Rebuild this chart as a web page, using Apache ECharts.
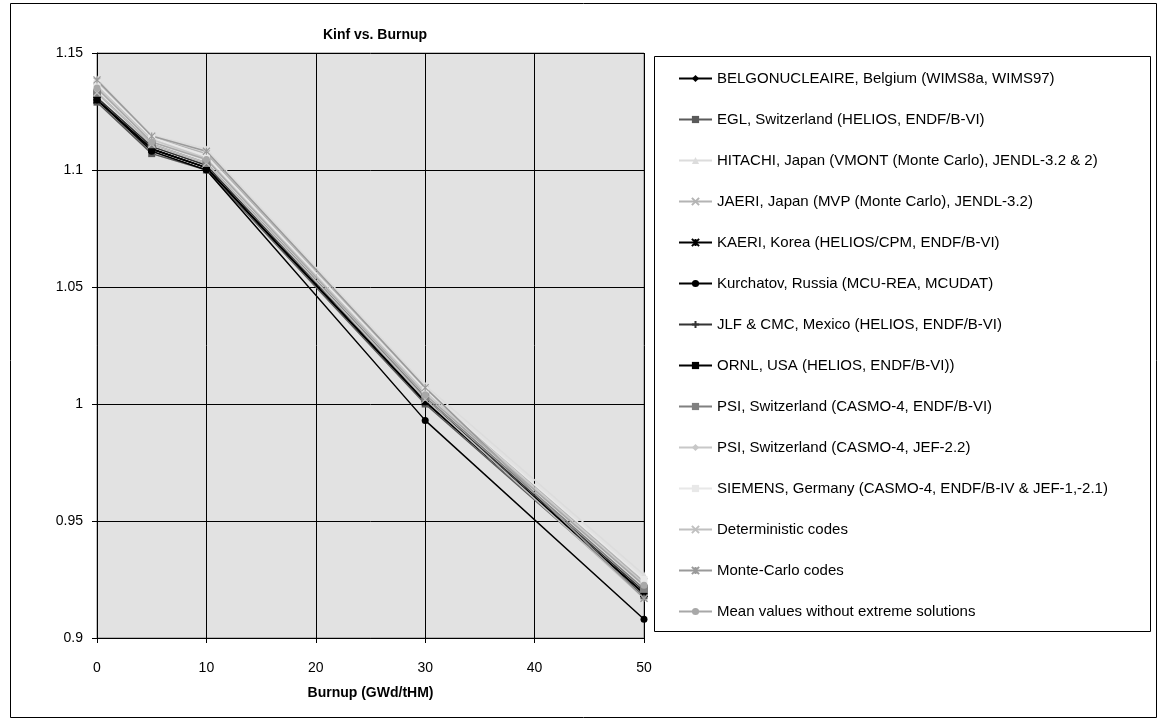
<!DOCTYPE html>
<html><head><meta charset="utf-8">
<script src="https://cdn.jsdelivr.net/npm/echarts@6/dist/echarts.min.js"></script>
<style>html,body{margin:0;padding:0;background:#fff}#c{width:1160px;height:720px}</style>
</head><body><div id="c"></div>
<script>
const burnup = [0, 5, 10, 30, 50];
const names = [
  'BELGONUCLEAIRE, Belgium (WIMS8a, WIMS97)',
  'EGL, Switzerland (HELIOS, ENDF/B-VI)',
  'HITACHI, Japan (VMONT (Monte Carlo), JENDL-3.2 & 2)',
  'JAERI, Japan (MVP (Monte Carlo), JENDL-3.2)',
  'KAERI, Korea (HELIOS/CPM, ENDF/B-VI)',
  'Kurchatov, Russia (MCU-REA, MCUDAT)',
  'JLF & CMC, Mexico (HELIOS, ENDF/B-VI)',
  'ORNL, USA (HELIOS, ENDF/B-VI))',
  'PSI, Switzerland (CASMO-4, ENDF/B-VI)',
  'PSI, Switzerland (CASMO-4, JEF-2.2)',
  'SIEMENS, Germany (CASMO-4, ENDF/B-IV & JEF-1,-2.1)',
  'Deterministic codes',
  'Monte-Carlo codes',
  'Mean values without extreme solutions'
];
const belgonucleaire = [1.130, 1.109, 1.101, 1.001, 0.919];
const egl            = [1.129, 1.107, 1.100, 1.000, 0.918];
const hitachi        = [1.139, 1.115, 1.109, 1.008, 0.927];
const jaeri          = [1.138, 1.114, 1.107, 1.006, 0.924];
const kaeri          = [1.130, 1.109, 1.101, 1.001, 0.919];
const kurchatov      = [1.130, 1.108, 1.100, 0.993, 0.908];
const jlfCmc         = [1.131, 1.110, 1.102, 1.002, 0.920];
const ornl           = [1.130, 1.109, 1.101, 1.001, 0.919];
const psiEndf        = [1.133, 1.111, 1.103, 1.003, 0.921];
const psiJef         = [1.136, 1.113, 1.105, 1.005, 0.923];
const siemens        = [1.137, 1.114, 1.106, 1.006, 0.925];
const deterministic  = [1.133, 1.111, 1.103, 1.002, 0.917];
const monteCarlo     = [1.1385, 1.1145, 1.108, 1.007, 0.917];
const meanValues     = [1.135, 1.112, 1.1045, 1.004, 0.9225];
const allValues = [belgonucleaire, egl, hitachi, jaeri, kaeri, kurchatov, jlfCmc, ornl, psiEndf, psiJef, siemens, deterministic, monteCarlo, meanValues];

const X = 'path://M0,0L10,10M10,0L0,10';
const STAR = 'path://M0,0L10,10M10,0L0,10M5,0L5,10';
const PLUS = 'path://M5,0L5,10M0,5L10,5';
const DASH = 'path://M0,4L10,4L10,6.5L0,6.5Z';
const styles = [
  {c:'#000000', s:'diamond', z:7},
  {c:'#5a5a5a', s:'rect', z:7},
  {c:'#dcdcdc', s:'triangle', z:7},
  {c:'#b4b4b4', s:X, z:7, stroke:true},
  {c:'#000000', s:STAR, z:7, stroke:true},
  {c:'#000000', s:'circle', z:7},
  {c:'#333333', s:PLUS, z:8, stroke:true},
  {c:'#000000', s:DASH, z:7},
  {c:'#808080', s:DASH, z:8},
  {c:'#c8c8c8', s:'diamond', z:7},
  {c:'#e8e8e8', s:'rect', z:7},
  {c:'#c0c0c0', s:X, z:7, stroke:true},
  {c:'#9a9a9a', s:STAR, z:7, stroke:true},
  {c:'#a8a8a8', s:'circle', z:7}
];

const series = names.map((n, i) => {
  const st = styles[i];
  return {
    name: n, type: 'line', data: burnup.map((b, j) => [b, allValues[i][j]]),
    symbol: st.s, symbolSize: st.z, showAllSymbol: true,
    lineStyle: {color: st.c, width: 1.5},
    itemStyle: {color: st.c, borderColor: st.c, borderWidth: st.stroke ? 1.2 : 0},
    emphasis: {disabled: true}, animation: false
  };
});

const chart = echarts.init(document.getElementById('c'), null, {renderer: 'canvas'});
const FONT = 'Liberation Sans, Arial, sans-serif';
chart.setOption({
  animation: false,
  backgroundColor: '#ffffff',
  textStyle: {fontFamily: FONT},
  title: {text: 'Kinf vs. Burnup', left: 370, top: 23, textAlign: 'center',
    textStyle: {fontFamily: FONT, fontSize: 14, fontWeight: 'bold', color: '#000'}},
  graphic: [
    {type: 'rect', shape: {x: 10.5, y: 3.5, width: 1146, height: 714}, style: {fill: 'none', stroke: '#000', lineWidth: 1}, silent: true},
    {type: 'rect', shape: {x: 654.5, y: 56.5, width: 496, height: 575}, style: {fill: '#fff', stroke: '#000', lineWidth: 1}, silent: true, z: -1}
  ],
  legend: {
    orient: 'vertical', left: 673, top: 66,
    itemWidth: 33, itemHeight: 9, itemGap: 26,
    textStyle: {fontFamily: FONT, fontSize: 15, lineHeight: 15, color: '#000'},
    data: names, selectedMode: false
  },
  grid: {left: 97, top: 53, width: 547, height: 585, show: true,
    backgroundColor: '#e2e2e2', borderColor: '#808080', borderWidth: 1},
  xAxis: {
    type: 'value', min: 0, max: 50, interval: 10,
    name: 'Burnup (GWd/tHM)', nameLocation: 'middle', nameGap: 48,
    nameTextStyle: {fontFamily: FONT, fontSize: 14, fontWeight: 'bold', color: '#000'},
    axisLine: {show: true, lineStyle: {color: '#000', width: 1}},
    axisTick: {show: true, inside: false, length: 5, lineStyle: {color: '#000'}},
    axisLabel: {fontFamily: FONT, fontSize: 14, color: '#000', margin: 23},
    splitLine: {show: true, lineStyle: {color: '#000', width: 1}}
  },
  yAxis: {
    type: 'value', min: 0.9, max: 1.15, interval: 0.05,
    axisLine: {show: true, lineStyle: {color: '#000', width: 1}},
    axisTick: {show: true, inside: false, length: 5, lineStyle: {color: '#000'}},
    axisLabel: {fontFamily: FONT, fontSize: 14, color: '#000', margin: 14,
      formatter: v => String(parseFloat(v.toFixed(2)))},
    splitLine: {show: true, lineStyle: {color: '#000', width: 1}}
  },
  series: series
});
</script></body></html>
